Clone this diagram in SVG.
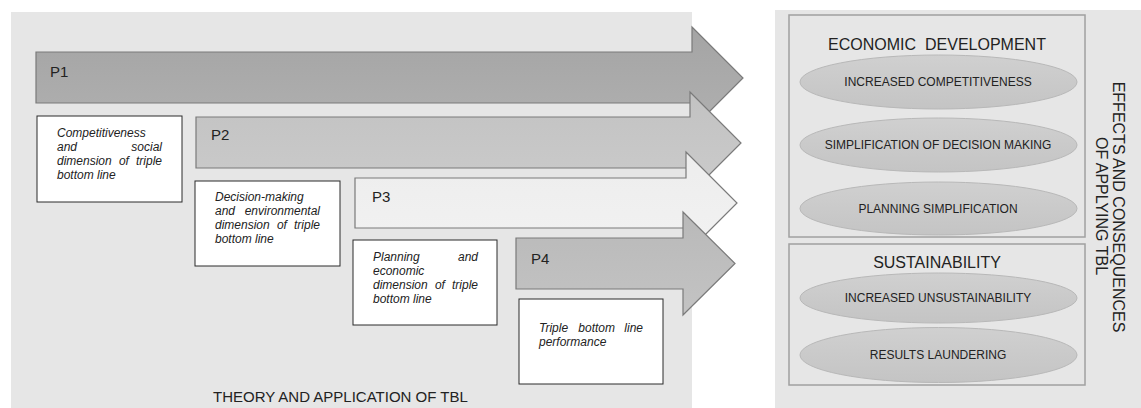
<svg xmlns="http://www.w3.org/2000/svg" width="1141" height="408" viewBox="0 0 1141 408">
  <style>
    text { font-family: "Liberation Sans", Arial, sans-serif; fill: #222; }
    .panel { fill: #e6e6e6; }
    .arrow { stroke: #7a7a7a; stroke-width: 1.2; }
    .plabel { font-size: 15px; }
    .note { fill: #fff; stroke: #2a2a2a; stroke-width: 1; }
    .notetext { font-size: 12px; font-style: italic; }
    .group { fill: none; stroke: #a0a0a0; stroke-width: 1.5; }
    .head { font-size: 16px; text-anchor: middle; white-space: pre; }
    .oval { fill: url(#ovalFill); stroke: #b8b8b8; stroke-width: 1; }
    .ovaltext { font-size: 12px; text-anchor: middle; }
    .side { font-size: 16px; text-anchor: middle; }
  </style>
  <defs>
    <linearGradient id="ovalFill" x1="0" y1="0" x2="0" y2="1">
      <stop offset="0" stop-color="#d0d0d0"/>
      <stop offset="1" stop-color="#c4c4c4"/>
    </linearGradient>
    <linearGradient id="g1" x1="0" y1="0" x2="0" y2="1">
      <stop offset="0" stop-color="#a4a4a4"/>
      <stop offset="1" stop-color="#b0b0b0"/>
    </linearGradient>
    <linearGradient id="g2" x1="0" y1="0" x2="0" y2="1">
      <stop offset="0" stop-color="#c2c2c2"/>
      <stop offset="1" stop-color="#cbcbcb"/>
    </linearGradient>
    <linearGradient id="g3" x1="0" y1="0" x2="0" y2="1">
      <stop offset="0" stop-color="#ededed"/>
      <stop offset="1" stop-color="#f2f2f2"/>
    </linearGradient>
    <linearGradient id="g4" x1="0" y1="0" x2="0" y2="1">
      <stop offset="0" stop-color="#b9b9b9"/>
      <stop offset="1" stop-color="#c3c3c3"/>
    </linearGradient>
  </defs>

  <rect width="1141" height="408" fill="#ffffff"/>

  <!-- left panel: theory and application -->
  <g id="theory-panel">
    <rect class="panel" x="11" y="12" width="681" height="396"/>
    <text x="213" y="402" style="font-size:15px">THEORY AND APPLICATION OF TBL</text>
  </g>

  <!-- right panel: effects and consequences -->
  <g id="effects-panel">
    <rect class="panel" x="775" y="10" width="366" height="398" fill="#e8e8e8"/>
    <text class="side" transform="translate(1113,207) rotate(90)">EFFECTS AND CONSEQUENCES</text>
    <text class="side" transform="translate(1096,206) rotate(90)">OF APPLYING TBL</text>
  </g>

  <!-- phase arrows -->
  <g id="P1">
    <path class="arrow" fill="url(#g1)" d="M36,52 H692 V27 L743,78 L692,129 V103 H36 Z"/>
    <text class="plabel" x="50" y="77">P1</text>
  </g>
  <g id="P2">
    <path class="arrow" fill="url(#g2)" d="M196,117 H690 V92 L741,143 L690,194 V168 H196 Z"/>
    <text class="plabel" x="211" y="140">P2</text>
  </g>
  <g id="P3">
    <path class="arrow" fill="url(#g3)" d="M355,178 H686 V152 L737,203 L686,254 V228 H355 Z"/>
    <text class="plabel" x="372" y="202">P3</text>
  </g>
  <g id="P4">
    <path class="arrow" fill="url(#g4)" d="M516,238 H683 V212 L735,263.5 L683,315 V289 H516 Z"/>
    <text class="plabel" x="531" y="264">P4</text>
  </g>

  <!-- notes under each phase -->
  <g id="note1">
    <rect class="note" x="37" y="116" width="145" height="86"/>
    <text class="notetext" x="57" y="137">Competitiveness</text>
    <text class="notetext" x="57" y="151">and</text>
    <text class="notetext" x="162" y="151" text-anchor="end">social</text>
    <text class="notetext" x="57" y="165">dimension</text>
    <text class="notetext" x="118.9" y="165">of</text>
    <text class="notetext" x="162" y="165" text-anchor="end">triple</text>
    <text class="notetext" x="57" y="179">bottom line</text>
  </g>
  <g id="note2">
    <rect class="note" x="195" y="181" width="145" height="85"/>
    <text class="notetext" x="215" y="201">Decision-making</text>
    <text class="notetext" x="215" y="215">and</text>
    <text class="notetext" x="320" y="215" text-anchor="end">environmental</text>
    <text class="notetext" x="215" y="229">dimension</text>
    <text class="notetext" x="276.9" y="229">of</text>
    <text class="notetext" x="320" y="229" text-anchor="end">triple</text>
    <text class="notetext" x="215" y="243">bottom line</text>
  </g>
  <g id="note3">
    <rect class="note" x="353" y="240" width="144" height="85"/>
    <text class="notetext" x="373" y="261">Planning</text>
    <text class="notetext" x="478" y="261" text-anchor="end">and</text>
    <text class="notetext" x="373" y="275">economic</text>
    <text class="notetext" x="373" y="289">dimension</text>
    <text class="notetext" x="434.9" y="289">of</text>
    <text class="notetext" x="478" y="289" text-anchor="end">triple</text>
    <text class="notetext" x="373" y="303">bottom line</text>
  </g>
  <g id="note4">
    <rect class="note" x="519" y="299" width="144" height="85"/>
    <text class="notetext" x="539" y="332">Triple</text>
    <text class="notetext" x="578.3" y="332">bottom</text>
    <text class="notetext" x="643" y="332" text-anchor="end">line</text>
    <text class="notetext" x="539" y="346">performance</text>
  </g>

  <!-- economic development group -->
  <g id="economic-development">
    <rect class="group" x="789" y="15" width="296" height="222"/>
    <text class="head" x="937" y="50">ECONOMIC  DEVELOPMENT</text>
  </g>
  <g id="increased-competitiveness">
    <ellipse class="oval" cx="938.5" cy="82" rx="138.5" ry="27"/>
    <text class="ovaltext" x="938" y="86">INCREASED COMPETITIVENESS</text>
  </g>
  <g id="simplification-decision">
    <ellipse class="oval" cx="938.5" cy="145" rx="138.5" ry="27"/>
    <text class="ovaltext" x="938" y="149">SIMPLIFICATION OF DECISION MAKING</text>
  </g>
  <g id="planning-simplification">
    <ellipse class="oval" cx="938.5" cy="208.5" rx="138.5" ry="26.5"/>
    <text class="ovaltext" x="938" y="212.5">PLANNING SIMPLIFICATION</text>
  </g>

  <!-- sustainability group -->
  <g id="sustainability">
    <rect class="group" x="789" y="244" width="296" height="141"/>
    <text class="head" x="937" y="268">SUSTAINABILITY</text>
  </g>
  <g id="increased-unsustainability">
    <ellipse class="oval" cx="938.5" cy="298" rx="138.5" ry="25"/>
    <text class="ovaltext" x="938" y="302">INCREASED UNSUSTAINABILITY</text>
  </g>
  <g id="results-laundering">
    <ellipse class="oval" cx="938.5" cy="355" rx="138.5" ry="27.5"/>
    <text class="ovaltext" x="938" y="359">RESULTS LAUNDERING</text>
  </g>

  <!-- no connectors between nodes -->
  <g id="connectors"/>
</svg>
